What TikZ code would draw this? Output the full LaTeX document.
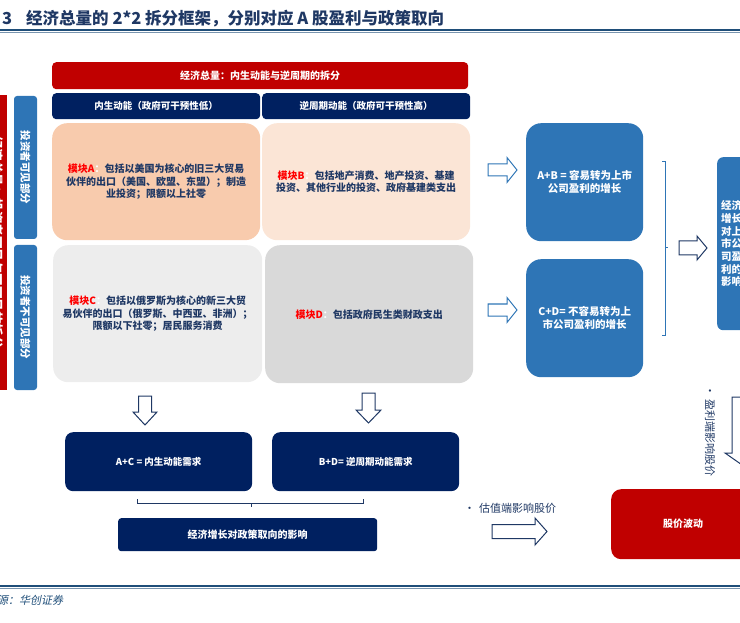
\documentclass[tikz,border=0pt]{standalone}
\usepackage{fontspec}
\setmainfont{Noto Sans CJK SC}
\newfontfamily\srcfont[FakeSlant=0.2]{Noto Sans CJK SC}
\definecolor{navy}{HTML}{002060}
\definecolor{bblue}{HTML}{2E75B6}
\definecolor{dred}{HTML}{C00000}
\definecolor{tnavy}{HTML}{1F3864}
\definecolor{peachA}{HTML}{F8CBAD}
\definecolor{peachB}{HTML}{FBE5D6}
\definecolor{greyC}{HTML}{EDEDED}
\definecolor{greyD}{HTML}{D9D9D9}
\definecolor{rulec}{HTML}{1F4E79}
\tikzset{
  box/.style={anchor=north west, inner sep=0pt, align=center, draw=none},
  wtxt/.style={text=white, font=\fontsize{10}{13}\selectfont\bfseries},
  mod/.style={box, rounded corners=15pt, text=tnavy, font=\fontsize{10}{12.5}\selectfont\bfseries},
  arrowline/.style={draw=#1, fill=white, line width=1pt, line join=miter},
  pics/barrow/.style args={#1/#2/#3/#4}{code={
    \path[pic actions] (0,-#3/2) -- (#1-#4,-#3/2) -- (#1-#4,-#2/2) -- (#1,0)
      -- (#1-#4,#2/2) -- (#1-#4,#3/2) -- (0,#3/2) -- cycle;}},
}
\newcommand{\lab}[1]{{\color{red}#1}{\color{white}：}}
\begin{document}
\begin{tikzpicture}[x=1pt,y=-1pt]
\useasboundingbox (0,0) rectangle (740,623);
\clip (0,0) rectangle (740,623);

% title and rules
\node[anchor=west, inner sep=0pt, text=tnavy, font=\fontsize{16.5}{18}\selectfont\bfseries] (title) at (2,18.5)
  {3\hspace{14pt}经济总量的 2*2 拆分框架，分别对应 A 股盈利与政策取向};
\draw[rulec, line width=1.6pt] (0,30) -- (740,30);
\draw[rulec!60, line width=0.5pt] (0,32.5) -- (740,32.5);
\draw[rulec, line width=1.6pt] (0,586) -- (740,586);
\draw[rulec!60, line width=0.5pt] (0,588.5) -- (740,588.5);
\node[anchor=west, inner sep=0pt, text=rulec, font=\srcfont\fontsize{11}{12}\selectfont] (src) at (-36,600) {资料来源：华创证券};

% headers
\node[box, fill=dred, rounded corners=4pt, minimum width=416pt, minimum height=27pt, wtxt] (banner) at (52,62) {经济总量：内生动能与逆周期的拆分};
\node[box, fill=navy, rounded corners=4pt, minimum width=208pt, minimum height=26pt, wtxt, font=\fontsize{9.5}{12}\selectfont\bfseries] (hl) at (52,93) {内生动能（政府可干预性低）};
\node[box, fill=navy, rounded corners=4pt, minimum width=208pt, minimum height=26pt, wtxt, font=\fontsize{9.5}{12}\selectfont\bfseries] (hr) at (262,93) {逆周期动能（政府可干预性高）};

% left side bars
\node[rotate=-90, fill=dred, minimum width=295pt, minimum height=20pt, inner sep=0pt, wtxt, font=\fontsize{12.5}{14}\selectfont\bfseries] (side) at (-3,242.5) {经济总量：投资者可见与不可见的拆分};
\node[rotate=-90, fill=bblue, rounded corners=3pt, minimum width=143pt, minimum height=23pt, inner sep=0pt, wtxt, font=\fontsize{10.5}{12}\selectfont\bfseries] (vis) at (25.5,167.5) {投资者可见部分};
\node[rotate=-90, fill=bblue, rounded corners=3pt, minimum width=145pt, minimum height=23pt, inner sep=0pt, wtxt, font=\fontsize{10.5}{12}\selectfont\bfseries] (invis) at (25.5,317.5) {投资者不可见部分};

% modules
\node[mod, fill=peachA, minimum width=208pt, minimum height=117pt] (A) at (52,123)
  {\lab{模块A}包括以美国为核心的旧三大贸易\\伙伴的出口（美国、欧盟、东盟）；制造\\业投资；限额以上社零};
\node[mod, fill=peachB, minimum width=208pt, minimum height=117pt] (B) at (262,123)
  {\lab{模块B}包括地产消费、地产投资、基建\\投资、其他行业的投资、政府基建类支出};
\node[mod, fill=greyC, minimum width=209pt, minimum height=137pt] (C) at (53,245)
  {\lab{模块C}包括以俄罗斯为核心的新三大贸\\易伙伴的出口（俄罗斯、中西亚、非洲）；\\限额以下社零；居民服务消费};
\node[mod, fill=greyD, minimum width=208pt, minimum height=138pt] (D) at (265,245)
  {\lab{模块D}包括政府民生类财政支出};

% down arrows
\pic[arrowline=tnavy, rotate=-90] at (145,396) {barrow=29/24/13/13};
\pic[arrowline=tnavy, rotate=-90] at (368.5,393) {barrow=30/25/13/13};

% bottom navy boxes
\node[box, fill=navy, rounded corners=8pt, minimum width=187pt, minimum height=59pt, wtxt, font=\fontsize{9.5}{12}\selectfont\bfseries] (AC) at (65,432) {A+C = 内生动能需求};
\node[box, fill=navy, rounded corners=8pt, minimum width=187pt, minimum height=59pt, wtxt, font=\fontsize{9.5}{12}\selectfont\bfseries] (BD) at (272,432) {B+D= 逆周期动能需求};
\draw[tnavy, line width=1pt] (137,499) -- (137,503) -- (363,503) -- (363,499);
\draw[tnavy, line width=1pt] (251,503) -- (251,507);
\node[box, fill=navy, rounded corners=3pt, minimum width=259pt, minimum height=33pt, wtxt] (pol) at (118,518) {经济增长对政策取向的影响};

% right side
\pic[arrowline=bblue] at (488,170) {barrow=29/25/12/10};
\pic[arrowline=bblue] at (488,310) {barrow=29/25/12/10};
\node[box, fill=bblue, rounded corners=15pt, minimum width=117pt, minimum height=118pt, wtxt, font=\fontsize{10.5}{13}\selectfont\bfseries] (AB) at (526,123) {A+B = 容易转为上市\\公司盈利的增长};
\node[box, fill=bblue, rounded corners=15pt, minimum width=117pt, minimum height=118pt, wtxt, font=\fontsize{10.5}{13}\selectfont\bfseries] (CD) at (526,259) {C+D= 不容易转为上\\市公司盈利的增长};
\draw[bblue, line width=1pt] (662,162) -- (665,162) -- (665,335) -- (662,335);
\draw[bblue, line width=1pt] (665,247.5) -- (668,247.5);
\pic[arrowline=tnavy] at (679,248) {barrow=28/24/14/10};
\node[box, fill=bblue, rounded corners=6pt, minimum width=29pt, minimum height=173pt, wtxt, font=\fontsize{10.5}{12.7}\selectfont\bfseries] (earn) at (717,157) {经济\\增长\\对上\\市公\\司盈\\利的\\影响};

% price block
\pic[arrowline=tnavy, rotate=-90] at (745,397) {barrow=70/40/26/14};
\node[rotate=-90, inner sep=0pt, text=tnavy, font=\fontsize{11}{12}\selectfont] (t1) at (710,431) {•\hspace{4pt}盈利端影响股价};
\node[anchor=west, inner sep=0pt, text=tnavy, font=\fontsize{11}{12}\selectfont] (t2) at (464,508) {•\hspace{4pt}估值端影响股价};
\pic[arrowline=tnavy] at (492,531.5) {barrow=55/27/14/12};
\node[box, fill=dred, rounded corners=10pt, minimum width=144pt, minimum height=70pt, wtxt] (price) at (611,489) {股价波动};
\end{tikzpicture}
\end{document}
